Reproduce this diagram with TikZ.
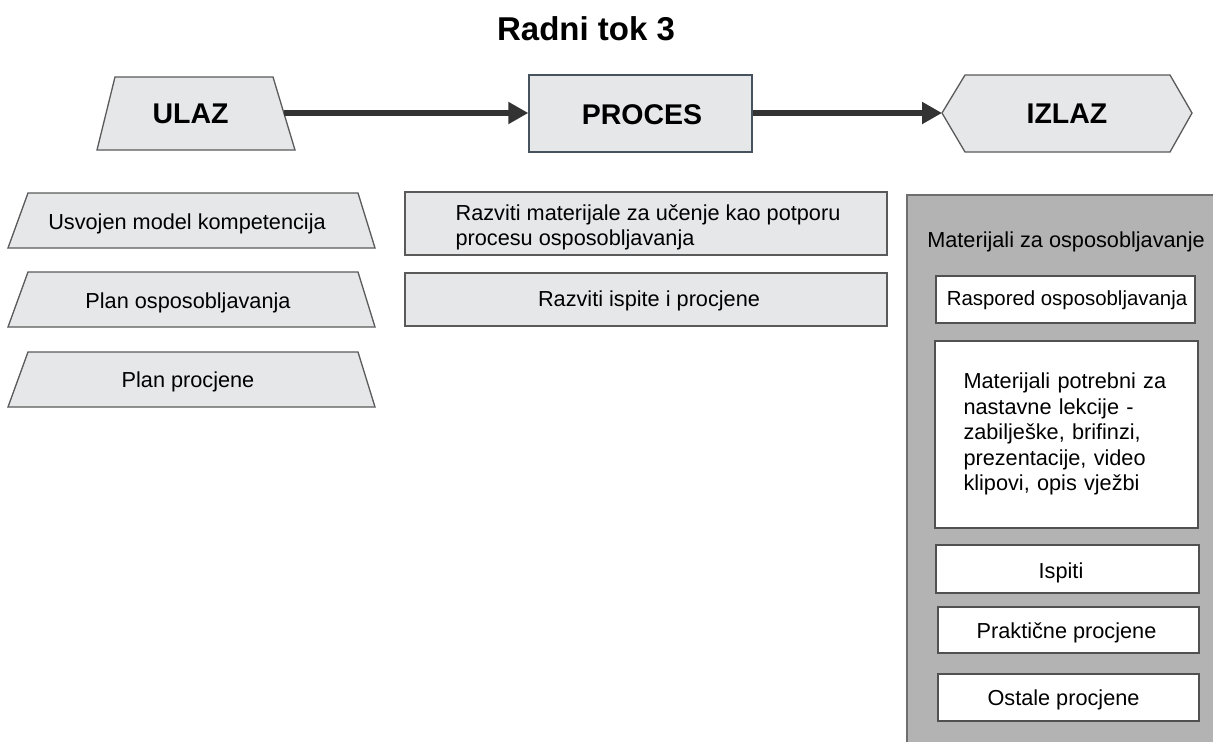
\documentclass[tikz,border=0pt]{standalone}
\usepackage{fontspec}
\setmainfont{Liberation Sans}
\usetikzlibrary{arrows.meta}
\definecolor{boxfill}{HTML}{E6E7E9}
\definecolor{procborder}{HTML}{46525E}
\definecolor{edgegray}{HTML}{5A5A5A}
\definecolor{panelfill}{HTML}{B3B3B3}
\definecolor{panelborder}{HTML}{6E6E6E}
\definecolor{arrowcol}{HTML}{333333}
\tikzset{
  bodytext/.style={font=\fontsize{21.7}{25.5}\selectfont, text=black, inner sep=0pt},
  baselabel/.style={bodytext, anchor=base},
  headtext/.style={font=\fontsize{28.5}{32}\selectfont\bfseries, text=black, inner sep=0pt},
  shapeline/.style={draw=edgegray, line width=1.3pt, fill=boxfill},
  whitebox/.style={draw=edgegray!90!black, line width=1.4pt, fill=white},
  flowarrow/.style={draw=arrowcol, line width=6pt, -{Triangle[length=20pt,width=21pt]}},
}
\begin{document}
\begin{tikzpicture}[x=1pt,y=-1pt]
\useasboundingbox (0,0) rectangle (1213,742);
\fill[white] (0,0) rectangle (1213,742);

% title
\node[font=\fontsize{33}{36}\selectfont\bfseries, inner sep=0pt, anchor=base] (title) at (586,40) {Radni tok 3};

% ULAZ trapezoid
\draw[shapeline] (115,77) -- (273,77) -- (295,150) -- (97,150) -- cycle;
\node[headtext, anchor=base] (ulaz) at (190.5,123.5) {ULAZ};
\coordinate (ulazR) at (284,113);

% PROCES
\node[draw=procborder, line width=1.4pt, fill=boxfill, minimum width=223pt, minimum height=77pt, inner sep=0pt] (proces) at (640.5,113.5) {};
\node[headtext, anchor=base] (procestext) at (642,124.5) {PROCES};

% IZLAZ hexagon
\draw[shapeline] (942,113) -- (965,75) -- (1170,75) -- (1192,113) -- (1170,152) -- (965,152) -- cycle;
\node[headtext, anchor=base] (izlaz) at (1067,123.5) {IZLAZ};
\coordinate (izlazL) at (942,113);

% arrows
\draw[flowarrow] (ulazR) -- (proces.west |- ulazR);
\draw[flowarrow] (proces.east |- izlazL) -- (izlazL);

% left trapezoids
\draw[shapeline] (28,193) -- (358,193) -- (375,248) -- (8,248) -- cycle;
\node[baselabel] (in1) at (187,229) {Usvojen model kompetencija};
\draw[shapeline] (28,272) -- (358,272) -- (375,327) -- (8,327) -- cycle;
\node[baselabel] (in2) at (188,308) {Plan osposobljavanja};
\draw[shapeline] (28,352) -- (358,352) -- (375,407) -- (8,407) -- cycle;
\node[baselabel] (in3) at (188,387) {Plan procjene};

% middle boxes
\node[shapeline, minimum width=482pt, minimum height=63pt, inner sep=0pt] (p1) at (646,223.5) {};
\node[bodytext, align=left] (p1t) at (648,227.5) {Razviti materijale za učenje kao potporu\\procesu osposobljavanja};
\node[shapeline, minimum width=482pt, minimum height=53pt, inner sep=0pt] (p2) at (646,299.5) {};
\node[baselabel] (p2t) at (649,306) {Razviti ispite i procjene};

% right panel
\fill[panelfill] (907,195) rectangle (1213,742);
\draw[panelborder, line width=1.5pt] (1213,195) -- (907,195) -- (907,742);
\node[baselabel] (paneltitle) at (1066,247) {Materijali za osposobljavanje};

\node[whitebox, minimum width=259pt, minimum height=47pt, inner sep=0pt] (o1) at (1065.5,299.5) {};
\node[bodytext, anchor=base, font=\fontsize{20.4}{24}\selectfont] (o1t) at (1067,305) {Raspored osposobljavanja};

\node[whitebox, minimum width=263pt, minimum height=187pt, inner sep=0pt] (o2) at (1066.5,434.5) {};
\node[bodytext, align=left, text width=205pt] (o2t) at (1066,434) {Materijali potrebni za\\nastavne lekcije -\\zabilješke, brifinzi,\\prezentacije, video\\klipovi, opis vježbi};

\node[whitebox, minimum width=263pt, minimum height=48pt, inner sep=0pt] (o3) at (1067.5,569) {};
\node[baselabel] (o3t) at (1061,578) {Ispiti};

\node[whitebox, minimum width=261pt, minimum height=46pt, inner sep=0pt] (o4) at (1068.5,630) {};
\node[baselabel] (o4t) at (1066.5,638) {Praktične procjene};

\node[whitebox, minimum width=261pt, minimum height=47pt, inner sep=0pt] (o5) at (1068.5,697.5) {};
\node[baselabel] (o5t) at (1063.5,705) {Ostale procjene};
\end{tikzpicture}
\end{document}
